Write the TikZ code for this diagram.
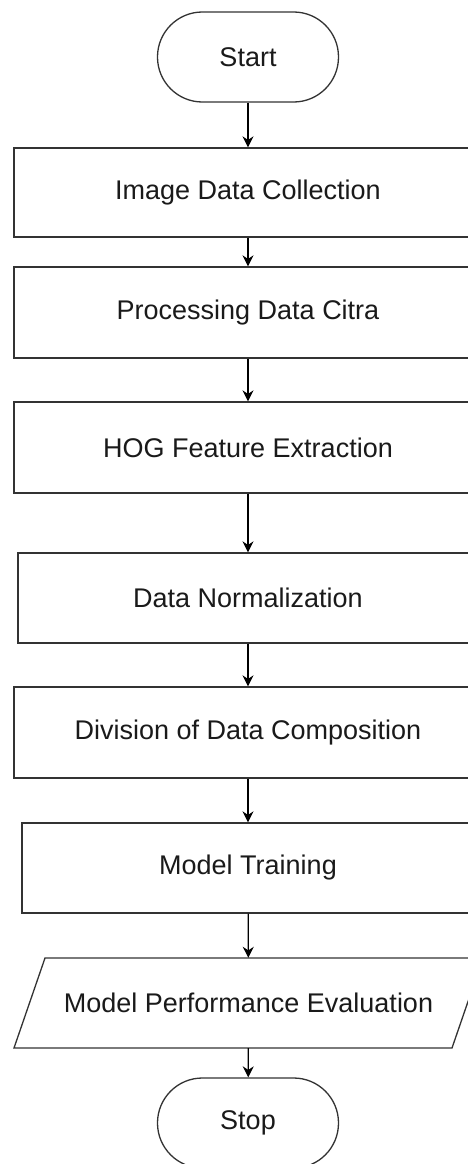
\documentclass[tikz,border=0pt]{standalone}
\usepackage{fontspec}
\setmainfont{Liberation Sans}
\usetikzlibrary{arrows.meta}
\definecolor{linec}{HTML}{333333}
\definecolor{textc}{HTML}{1A1A1A}
\begin{document}
\begin{tikzpicture}[x=1pt,y=-1pt,
  lbl/.style={font=\fontsize{27}{31}\selectfont, text=textc},
  box/.style={lbl, draw=linec, line width=1.3pt, inner sep=0pt},
  term/.style={box, rounded corners=44.9pt, minimum width=181pt, minimum height=90pt},
  arr/.style={draw=black, line width=1.3pt, -{Stealth[length=11pt,width=11pt]}}]
\useasboundingbox (0,0) rectangle (468,1164);
\fill[white] (0,0) rectangle (468,1164);
\clip (0,0) rectangle (468,1164);
\node[term] (start) at (248,57) {Start};
\node[box, minimum width=468pt, minimum height=89pt] (b1) at (248,192.5) {Image Data Collection};
\node[box, minimum width=468pt, minimum height=91pt] (b2) at (248,312.5) {Processing Data Citra};
\node[box, minimum width=468pt, minimum height=91pt] (b3) at (248,447.5) {HOG Feature Extraction};
\node[box, minimum width=460pt, minimum height=90pt] (b4) at (248,598) {Data Normalization};
\node[box, minimum width=468pt, minimum height=91pt] (b5) at (248,732.5) {Division of Data Composition};
\node[box, minimum width=452pt, minimum height=90pt] (b6) at (248,868) {Model Training};
\node[lbl, minimum width=400pt, minimum height=90pt, inner sep=0pt] (eval) at (248.5,1003) {Model Performance Evaluation};
\coordinate (p1) at (14,1048);
\coordinate (p2) at (45,958);
\coordinate (p3) at (483,958);
\coordinate (p4) at (452,1048);
\draw[draw=linec, line width=1.3pt] (p1) -- (p2) -- (p3) -- (p4) -- cycle;
\node[term] (stop) at (248,1123) {Stop};
\draw[arr] (start) -- (b1);
\draw[arr] (b1) -- (b2);
\draw[arr] (b2) -- (b3);
\draw[arr] (b3) -- (b4);
\draw[arr] (b4) -- (b5);
\draw[arr] (b5) -- (b6);
\draw[arr] (b6) -- (eval);
\draw[arr] (eval) -- (stop);
\end{tikzpicture}
\end{document}
